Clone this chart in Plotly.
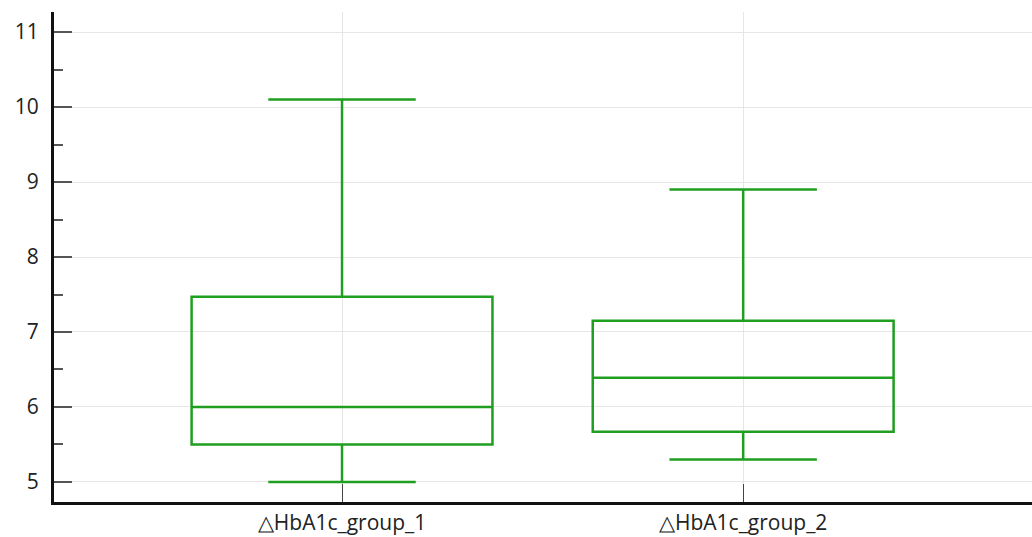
import plotly.graph_objects as go

# Summary statistics for each group
groups = ["△HbA1c_group_1", "△HbA1c_group_2"]
lower_whisker = [5.0, 5.3]
q1_values = [5.5, 5.67]
medians = [6.0, 6.39]
q3_values = [7.47, 7.15]
upper_whisker = [10.1, 8.9]

y_ticks = [5, 6, 7, 8, 9, 10, 11]

GREEN = "#1f9e1f"

fig = go.Figure()
fig.add_trace(go.Box(
    x=groups,
    q1=q1_values,
    median=medians,
    q3=q3_values,
    lowerfence=lower_whisker,
    upperfence=upper_whisker,
    width=0.75,
    whiskerwidth=0.49,
    fillcolor="rgba(0,0,0,0)",
    line=dict(color=GREEN, width=2.5),
    boxpoints=False,
    hoverinfo="skip",
    showlegend=False,
))

fig.update_layout(
    width=1032,
    height=537,
    margin=dict(l=54, r=0, t=12, b=35),
    paper_bgcolor="white",
    plot_bgcolor="white",
    font=dict(family="Open Sans, Noto Sans, sans-serif", size=21, color="#222222"),
    xaxis=dict(
        type="category",
        range=[-0.718, 1.72],
        automargin=False,
        showline=True,
        linecolor="#111111",
        linewidth=3,
        ticks="inside",
        ticklen=18,
        tickwidth=1,
        tickcolor="#444444",
        showgrid=True,
        gridcolor="#e6e6e6",
        gridwidth=1,
        zeroline=False,
        tickfont=dict(size=21),
        ticklabelstandoff=0,
    ),
    yaxis=dict(
        range=[4.733, 11.267],
        tickvals=y_ticks,
        automargin=False,
        showline=True,
        linecolor="#111111",
        linewidth=3,
        ticks="inside",
        ticklen=18,
        tickwidth=2,
        tickcolor="#555555",
        showgrid=True,
        gridcolor="#e6e6e6",
        gridwidth=1,
        zeroline=False,
        tickfont=dict(size=21),
        ticklabelstandoff=8,
        minor=dict(dtick=0.5, tick0=5.5, ticks="inside", ticklen=9,
                   tickwidth=2, tickcolor="#555555", showgrid=False),
    ),
)

fig.write_html("out.html")
